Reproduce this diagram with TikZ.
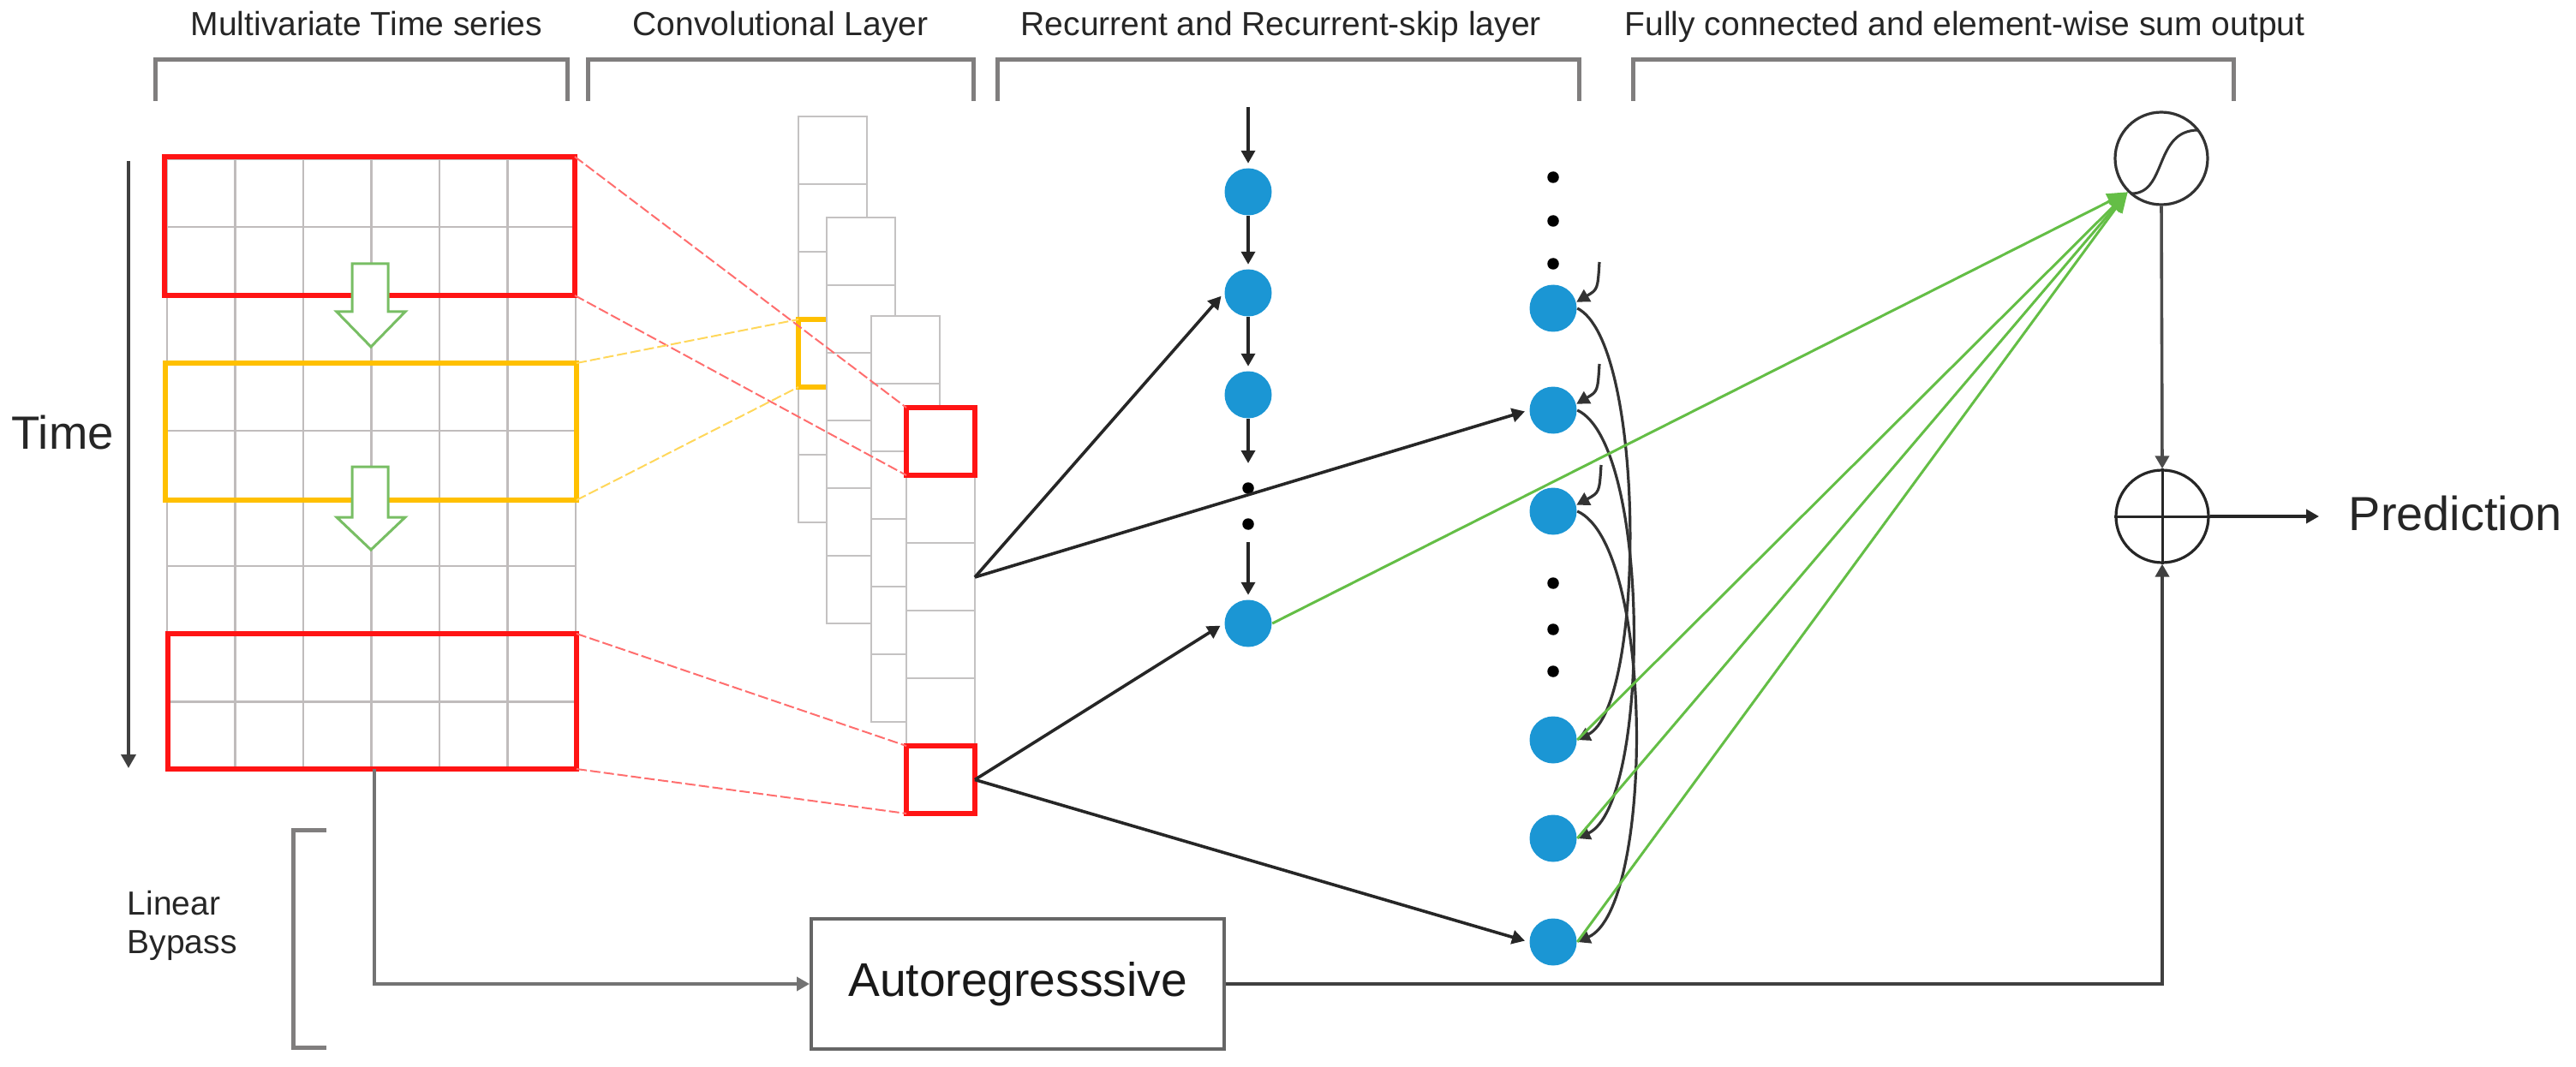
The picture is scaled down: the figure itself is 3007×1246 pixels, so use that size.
\documentclass[tikz,border=0pt]{standalone}
\usepackage{fontspec}
\setmainfont{Liberation Sans}
\usetikzlibrary{arrows.meta}
\definecolor{gridgray}{RGB}{192,188,188}
\definecolor{brkgray}{RGB}{128,126,126}
\definecolor{cellgray}{RGB}{196,194,194}
\definecolor{myred}{RGB}{255,20,20}
\definecolor{lightred}{RGB}{255,110,110}
\definecolor{myorange}{RGB}{255,192,0}
\definecolor{lightorange}{RGB}{255,215,90}
\definecolor{hgreen}{RGB}{120,190,100}
\definecolor{lgreen}{RGB}{100,190,70}
\definecolor{nodeblue}{RGB}{27,150,212}
\tikzset{
  hdr/.style={inner sep=0pt, text=black!85, font=\fontsize{11.1pt}{13pt}\selectfont},
  brk/.style={draw=brkgray, line width=0.5mm},
  gridline/.style={draw=gridgray, line width=0.25mm},
  redbox/.style={draw=myred, line width=0.62mm, inner sep=0pt, outer sep=0pt},
  orangebox/.style={draw=myorange, line width=0.55mm, inner sep=0pt, outer sep=0pt},
  cellbox/.style={draw=cellgray, fill=white, line width=0.25mm},
  hollowarrow/.style={draw=hgreen, fill=white, line width=0.3mm, line join=miter},
  redline/.style={draw=lightred, line width=0.2mm, dash pattern=on 1.2mm off 0.4mm},
  orangeline/.style={draw=lightorange, line width=0.2mm, dash pattern=on 1.2mm off 0.4mm},
  bnode/.style={circle, fill=nodeblue, draw=none, minimum size=5.5mm, inner sep=0pt},
  dotn/.style={circle, fill=black, draw=none, minimum size=1.35mm, inner sep=0pt},
  conn/.style={draw=black!85, line width=0.36mm, -{Triangle[length=1.5mm,width=1.6mm]}, shorten >=0.5mm},
  skipc/.style={draw=black!80, line width=0.32mm, -{Triangle[length=1.5mm,width=1.6mm]}},
  gline/.style={draw=lgreen, line width=0.3mm, -{Triangle[length=2.4mm,width=1.9mm]}},
  opnode/.style={circle, draw=black!80, line width=0.32mm, minimum size=10.8mm, inner sep=0pt},
  grayconn/.style={draw=black!55, line width=0.36mm, -{Triangle[length=1.5mm,width=1.6mm]}},
}
\begin{document}
\begin{tikzpicture}[x=0.1mm,y=-0.1mm]
\useasboundingbox (0,0) rectangle (3007,1246);

% headers
\node[hdr, anchor=base west] (h1) at (222,42) {Multivariate Time series};
\node[hdr, anchor=base west] (h2) at (738,42) {Convolutional Layer};
\node[hdr, anchor=base west] (h3) at (1191,42) {Recurrent and Recurrent-skip layer};
\node[hdr, anchor=base west] (h4) at (1896,42) {Fully connected and element-wise sum output};
\draw[brk] (181,118) -- (181,70) -- (662,70) -- (662,118);
\draw[brk] (686,118) -- (686,70) -- (1136,70) -- (1136,118);
\draw[brk] (1164,118) -- (1164,70) -- (1843,70) -- (1843,118);
\draw[brk] (1906,118) -- (1906,70) -- (2607,70) -- (2607,118);

% time axis
\node[anchor=base west, inner sep=0pt, text=black!85, font=\fontsize{15.5pt}{18pt}\selectfont] (time) at (13,525) {Time};
\coordinate (t1) at (150,188);
\coordinate (t2) at (150,897);
\draw[draw=black!75, line width=0.36mm, -{Triangle[length=1.6mm,width=1.7mm]}] (t1) -- (t2);

% grid
\foreach \i in {0,...,6} \draw[gridline] ({195+\i*79.5},186) -- ({195+\i*79.5},899);
\foreach \j in {0,...,9} \draw[gridline] (195,{186+\j*79.2}) -- (672,{186+\j*79.2});

% windows
\node[redbox, minimum width=47.9mm, minimum height=16.2mm] (tr) at (431.5,264) {};
\node[orangebox, minimum width=48mm, minimum height=16mm] (ob) at (433,504) {};
\node[redbox, minimum width=47.7mm, minimum height=15.8mm] (br) at (434.5,819) {};

% hollow arrows
\draw[hollowarrow] (411,308) -- (453,308) -- (453,364) -- (473,364) -- (433,405) -- (393,364) -- (411,364) -- cycle;
\draw[hollowarrow] (411,545) -- (453,545) -- (453,604) -- (473,604) -- (433,642) -- (393,604) -- (411,604) -- cycle;

% conv stacks
\foreach \k in {0,...,5} \filldraw[cellbox] (932,{136+\k*79}) rectangle ++(80,79);
\node[orangebox, minimum width=8mm, minimum height=7.9mm] (oc) at (972,412.5) {};
\foreach \k in {0,...,5} \filldraw[cellbox] (965,{254+\k*79}) rectangle ++(80,79);
\foreach \k in {0,...,5} \filldraw[cellbox] (1017,{369+\k*79}) rectangle ++(80,79);
\foreach \k in {0,...,5} \filldraw[cellbox] (1058,{476+\k*79}) rectangle ++(80,79);
\node[redbox, minimum width=8mm, minimum height=7.9mm] (ca) at (1098,515.5) {};
\node[redbox, minimum width=8mm, minimum height=7.9mm] (cb) at (1098,910.5) {};

% projection lines
\draw[redline] (tr.north east) -- (ca.north west);
\draw[redline] (tr.south east) -- (ca.south west);
\draw[redline] (br.north east) -- (cb.north west);
\draw[redline] (br.south east) -- (cb.south west);
\draw[orangeline] (ob.north east) -- (oc.north west);
\draw[orangeline] (ob.south east) -- (oc.south west);

% recurrent column
\node[bnode] (r1) at (1457,224) {};
\node[bnode] (r2) at (1457,342) {};
\node[bnode] (r3) at (1457,461) {};
\node[bnode] (r4) at (1457,728) {};
\node[dotn] (rd1) at (1457,570) {};
\node[dotn] (rd2) at (1457,612) {};
\coordinate (rtop) at (1457,125);
\coordinate (rmid) at (1457,546);
\coordinate (rmid2) at (1457,633);
\draw[conn] (rtop) -- (r1.north);
\draw[conn] (r1.south) -- (r2.north);
\draw[conn] (r2.south) -- (r3.north);
\draw[conn] (r3.south) -- (rmid);
\draw[conn] (rmid2) -- (r4.north);

% skip column
\node[dotn] (sd1) at (1813,207) {};
\node[dotn] (sd2) at (1813,258) {};
\node[dotn] (sd3) at (1813,308) {};
\node[bnode] (s1) at (1813,360) {};
\node[bnode] (s2) at (1813,479) {};
\node[bnode] (s3) at (1813,597) {};
\node[dotn] (sd4) at (1813,681) {};
\node[dotn] (sd5) at (1813,735) {};
\node[dotn] (sd6) at (1813,784) {};
\node[bnode] (s4) at (1813,864) {};
\node[bnode] (s5) at (1813,979) {};
\node[bnode] (s6) at (1813,1100) {};

% conv outputs to recurrent layers
\coordinate (o1) at (1138,674);
\draw[conn] (o1) -- (r2.west);
\draw[conn] (o1) -- (s2.west);
\draw[conn] (cb.east) -- (r4.west);
\draw[conn] (cb.east) -- (s6.west);

% skip incoming short arrows
\coordinate (i1) at (1867,306);
\coordinate (i2) at (1867,425);
\coordinate (i3) at (1869,543);
\draw[skipc] (i1) .. controls (1865,338) .. (s1.15);
\draw[skipc] (i2) .. controls (1865,457) .. (s2.15);
\draw[skipc] (i3) .. controls (1867,575) .. (s3.15);

% skip connections
\draw[skipc] (s1.east) .. controls +(80,40) and +(80,-40) .. (s4.east);
\draw[skipc] (s2.east) .. controls +(86,40) and +(86,-40) .. (s5.east);
\draw[skipc] (s3.east) .. controls +(90,40) and +(90,-40) .. (s6.east);

% output operators
\node[opnode] (sig) at (2523,185) {};
\draw[draw=black!80, line width=0.3mm] (2488,226) .. controls (2530,226) and (2514,152) .. (2566,152);
\node[opnode, draw=black!85] (sum) at (2524,603) {};
\draw[draw=black!85, line width=0.3mm] (sum.west) -- (sum.east);
\draw[draw=black!85, line width=0.3mm] (sum.north) -- (sum.south);

% fully connected (green)
\draw[gline] (r4.east) -- (sig.225);
\draw[gline] (s4.east) -- (sig.225);
\draw[gline] (s5.east) -- (sig.225);
\draw[gline] (s6.east) -- (sig.225);

\draw[grayconn, draw=black!70] (sig.south) -- (sum.north);
\coordinate (pe) at (2712,603);
\draw[conn] (sum.east) -- (pe);
\node[anchor=base west, inner sep=0pt, text=black!85, font=\fontsize{15.9pt}{19pt}\selectfont] (pred) at (2741,619) {Prediction};

% linear bypass
\node[draw=black!60, line width=0.4mm, minimum width=48.2mm, minimum height=15.2mm, inner sep=0pt, text=black!90, font=\fontsize{15.7pt}{19pt}\selectfont] (ar) at (1188,1149) {Autoregresssive};
\coordinate (bp) at (437,898);
\draw[grayconn] (bp) |- (ar.west);
\draw[grayconn, draw=black!75] (ar.east) -| (sum.south);
\draw[brk] (381,969) -- (342,969) -- (342,1223) -- (381,1223);
\node[hdr, anchor=base west] (lin) at (148,1068) {Linear};
\node[hdr, anchor=base west] (byp) at (148,1113) {Bypass};
\end{tikzpicture}
\end{document}
